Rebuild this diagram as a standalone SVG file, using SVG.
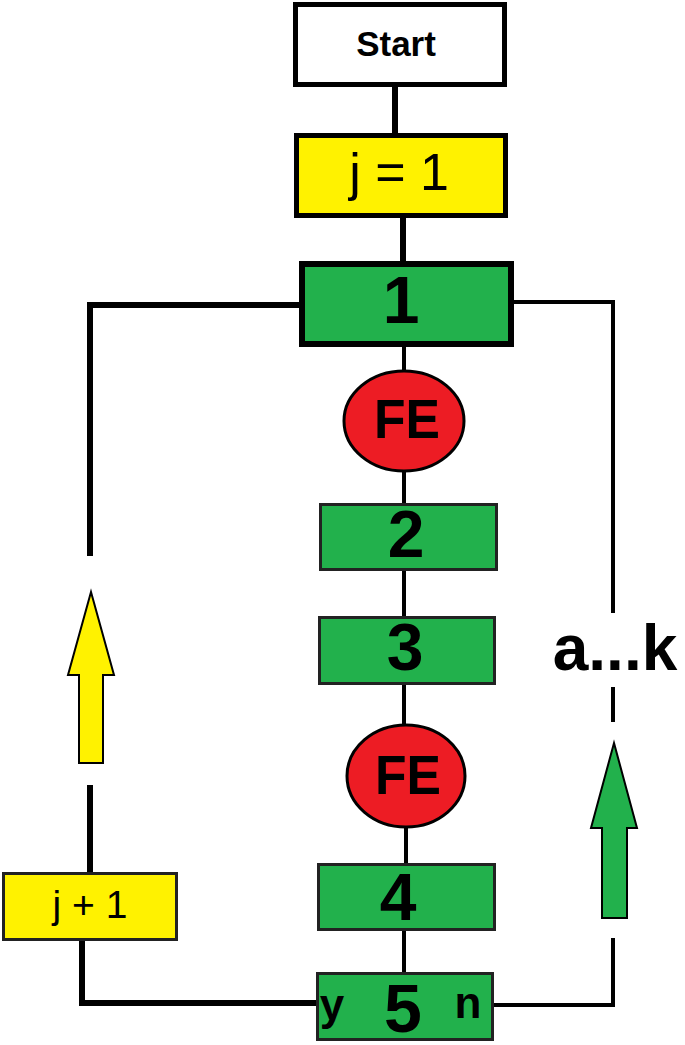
<svg xmlns="http://www.w3.org/2000/svg" width="685" height="1045" viewBox="0 0 685 1045">
<style>
  .ln { stroke:#000; fill:none; stroke-linecap:butt; }
  .t { font-family:"Liberation Sans", Arial, sans-serif; fill:#000; text-anchor:middle; }
  .g { fill:#22B14C; }
  .y { fill:#FFF200; }
  .r { fill:#ED1C24; }
</style>
<rect width="685" height="1045" fill="#fff"/>
<g id="connectors">
  <line class="ln" x1="395" y1="86" x2="395" y2="133" stroke-width="6"/>
  <line class="ln" x1="403" y1="218" x2="403" y2="261" stroke-width="6"/>
  <line class="ln" x1="404" y1="347" x2="404" y2="372" stroke-width="4"/>
  <line class="ln" x1="404" y1="471" x2="404" y2="503" stroke-width="4"/>
  <line class="ln" x1="404" y1="571" x2="404" y2="616" stroke-width="4"/>
  <line class="ln" x1="404" y1="684" x2="404" y2="726" stroke-width="4"/>
  <line class="ln" x1="406" y1="827" x2="406" y2="863" stroke-width="4"/>
  <line class="ln" x1="404" y1="930" x2="404" y2="972" stroke-width="4"/>
  <polyline class="ln" points="299,305 90,305 90,556" stroke-width="6"/>
  <line class="ln" x1="90" y1="785" x2="90" y2="873" stroke-width="6"/>
  <polyline class="ln" points="82,940 82,1003 316,1003" stroke-width="6"/>
  <polyline class="ln" points="514,302 613,302 613,613" stroke-width="4"/>
  <line class="ln" x1="613" y1="687" x2="613" y2="722" stroke-width="4"/>
  <polyline class="ln" points="613,938 613,1005 493,1005" stroke-width="4"/>
  <polygon id="arrow-yellow" points="91,592 114,675 103,675 103,763 79,763 79,675 68,675" fill="#FFF200" stroke="#000" stroke-width="2"/>
  <polygon id="arrow-green" points="614,743 637,828 627,828 627,918 602,918 602,828 591,828" fill="#22B14C" stroke="#000" stroke-width="2"/>
  <text class="t" x="615" y="670" font-size="64" font-weight="bold">a...k</text>
</g>
<g id="start">
  <rect x="295.5" y="4.5" width="209" height="80" fill="#fff" stroke="#000" stroke-width="5"/>
  <text class="t" x="396" y="56" font-size="35" font-weight="bold">Start</text>
</g>
<g id="j1">
  <rect class="y" x="296.5" y="135.5" width="209" height="80" stroke="#000" stroke-width="5"/>
  <text class="t" x="399" y="190" font-size="52">j = 1</text>
</g>
<g id="n1">
  <rect class="g" x="302" y="264" width="209" height="80" stroke="#000" stroke-width="6"/>
  <text class="t" x="401" y="323" font-size="66" font-weight="bold">1</text>
</g>
<g id="fe1">
  <ellipse class="r" cx="404" cy="421" rx="60" ry="50" stroke="#000" stroke-width="3"/>
  <text class="t" x="407" y="438" font-size="56" font-weight="bold" textLength="66" lengthAdjust="spacingAndGlyphs">FE</text>
</g>
<g id="n2">
  <rect class="g" x="320.5" y="504.5" width="176" height="65" stroke="#222" stroke-width="3"/>
  <text class="t" x="406" y="557" font-size="66" font-weight="bold">2</text>
</g>
<g id="n3">
  <rect class="g" x="319.5" y="617.5" width="175" height="66" stroke="#222" stroke-width="3"/>
  <text class="t" x="405" y="670" font-size="66" font-weight="bold">3</text>
</g>
<g id="fe2">
  <ellipse class="r" cx="406" cy="776" rx="59" ry="51" stroke="#000" stroke-width="3"/>
  <text class="t" x="408" y="794" font-size="56" font-weight="bold" textLength="66" lengthAdjust="spacingAndGlyphs">FE</text>
</g>
<g id="jplus1">
  <rect class="y" x="3.5" y="873.5" width="173" height="66" stroke="#222" stroke-width="3"/>
  <text class="t" x="90" y="918" font-size="39">j + 1</text>
</g>
<g id="n4">
  <rect class="g" x="318.5" y="864.5" width="176" height="65" stroke="#222" stroke-width="3"/>
  <text class="t" x="398" y="920" font-size="66" font-weight="bold">4</text>
</g>
<g id="n5">
  <rect class="g" x="317.5" y="973.5" width="175" height="66" stroke="#222" stroke-width="3"/>
  <text class="t" x="332" y="1020" font-size="44" font-weight="bold">y</text>
  <text class="t" x="403" y="1032" font-size="68" font-weight="bold">5</text>
  <text class="t" x="468" y="1018" font-size="44" font-weight="bold">n</text>
</g>
</svg>
